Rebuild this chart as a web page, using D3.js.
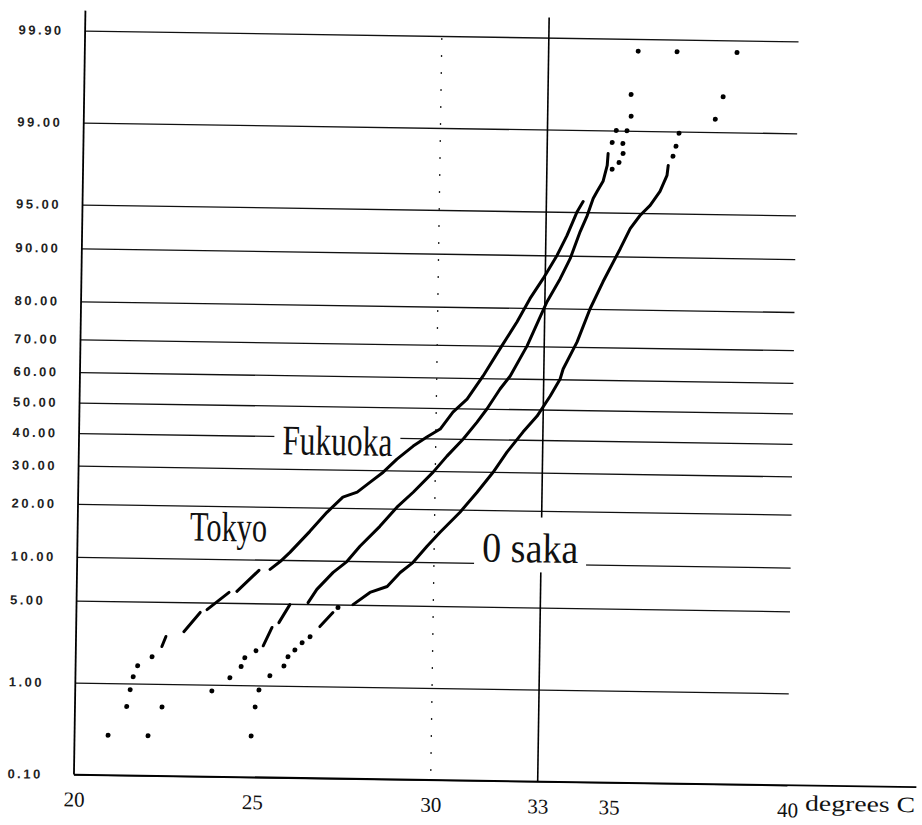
<!DOCTYPE html>
<html>
<head>
<meta charset="utf-8">
<script src="https://cdn.jsdelivr.net/npm/d3@7"></script>
<style>
  body { margin: 0; background: #fff; }
  svg { display: block; }
</style>
</head>
<body>
<div id="chart"></div>
<script>
// cumulative probability ticks (%) and the labels printed beside them
const probTicks = [0.1, 1, 5, 10, 20, 30, 40, 50, 60, 70, 80, 90, 95, 99, 99.9];
const probLabels = ["0.10", "1.00", "5.00", "10.00", "20.00", "30.00", "40.00", "50.00",
                    "60.00", "70.00", "80.00", "90.00", "95.00", "99.00", "99.90"];
const tempTicks = [20, 25, 30, 33, 35, 40];

// daily maxima, [temperature degC, cumulative %]
// low / high = isolated points of the tails, runs = dense stretches of the curve
const tokyoLow = [[20.94, 0.29], [21.45, 0.59], [21.54, 0.87], [21.62, 1.16], [21.74, 1.47], [22.14, 1.78]];
const tokyoRuns = [
  [[22.41, 2.19], [22.52, 2.67]],
  [[23.02, 2.94], [23.47, 4.20]],
  [[23.66, 4.42], [24.27, 5.96]],
  [[24.49, 6.08], [25.10, 8.52]],
  [[25.41, 8.67], [25.69, 9.76], [25.96, 11.16], [26.51, 14.9], [26.98, 18.93], [27.42, 22.57], [27.82, 23.9],
   [28.18, 26.62], [28.54, 29.45], [28.92, 33.38], [29.37, 37.46], [29.75, 40.41], [30.12, 43.06], [30.47, 48.7],
   [30.86, 53.1], [31.30, 60.71], [31.76, 69.1], [32.23, 76.62], [32.58, 82.1], [32.94, 86.15], [33.32, 90.0],
   [33.59, 92.61], [33.87, 95.05], [34.03, 95.84]]
];
const tokyoHigh = [[34.83, 97.75], [35.02, 98.04], [35.13, 98.37], [35.12, 98.68], [35.23, 99.0], [35.51, 99.86]];

const fukuokaLow = [[22.06, 0.29], [22.44, 0.59], [23.83, 0.87], [24.33, 1.17], [24.64, 1.49], [24.74, 1.79], [25.05, 2.07]];
const fukuokaRuns = [
  [[25.25, 2.29], [25.49, 3.26]],
  [[25.68, 3.57], [25.98, 4.93]],
  [[26.49, 5.12], [26.73, 6.40], [27.18, 8.40], [27.56, 9.9], [27.92, 12.33], [28.47, 16.1], [28.94, 20.35],
   [29.39, 24.1], [29.94, 29.69], [30.32, 34.5], [30.77, 39.95], [31.15, 45.5], [31.42, 49.9], [31.78, 56.58],
   [32.06, 60.8], [32.52, 70.09], [33.06, 81.51], [33.42, 86.2], [33.69, 89.55], [33.96, 93.1], [34.15, 94.7],
   [34.31, 96.07], [34.42, 96.56], [34.58, 97.15], [34.69, 97.91], [34.71, 98.36]]
];
const fukuokaHigh = [[34.82, 98.7], [34.93, 99.0], [35.34, 99.28], [35.33, 99.57], [36.60, 99.86]];

const osakaLow = [[24.95, 0.30], [25.05, 0.61], [25.15, 0.90], [25.45, 1.24], [25.84, 1.53], [25.95, 1.85],
  [26.14, 2.13], [26.34, 2.46], [26.56, 2.77], [27.33, 4.74]];
const osakaRuns = [
  [[26.83, 3.36], [27.19, 4.34]],
  [[27.75, 5.01], [28.22, 6.17], [28.70, 6.82], [29.06, 8.51], [29.41, 9.90], [29.80, 12.5], [30.16, 15.1],
   [30.71, 19.41], [31.18, 24.35], [31.62, 29.9], [32.00, 36.0], [32.44, 42.47], [32.83, 47.8], [33.19, 54.5],
   [33.46, 60.1], [33.54, 63.29], [33.92, 71.44], [34.27, 80.04], [34.62, 85.74], [35.09, 91.08], [35.36, 93.5],
   [35.63, 94.78], [35.91, 95.63], [36.18, 96.61], [36.37, 97.5], [36.40, 97.95]]
];
const osakaHigh = [[36.53, 98.30], [36.61, 98.62], [36.69, 98.96], [37.70, 99.25], [37.91, 99.56], [38.28, 99.86]];

// city names written on the plot, anchored at [temperature, %]
const cityNames = ["Fukuoka", "Tokyo", "0 saka"];
const cityAnchors = [[25.70, 34.3], [23.15, 12.9], [31.35, 10.2]];

// inverse of the normal cdf (Acklam), for the probability axis
function probit(p) {
    const a = [-39.6968302866538, 220.946098424521, -275.928510446969, 138.357751867269, -30.6647980661472, 2.50662827745924];
    const b = [-54.4760987982241, 161.585836858041, -155.698979859887, 66.8013118877197, -13.2806815528857];
    const c = [-0.00778489400243029, -0.322396458041136, -2.40075827716184, -2.54973253934373, 4.37466414146497, 2.93816398269878];
    const d = [0.00778469570904146, 0.32246712907004, 2.445134137143, 3.75440866190742];
    const lo = 0.02425;
    let q, r;
    if (p < lo) {
        q = Math.sqrt(-2 * Math.log(p));
        return (((((c[0] * q + c[1]) * q + c[2]) * q + c[3]) * q + c[4]) * q + c[5]) /
            ((((d[0] * q + d[1]) * q + d[2]) * q + d[3]) * q + 1);
    }
    if (p > 1 - lo) {
        q = Math.sqrt(-2 * Math.log(1 - p));
        return -(((((c[0] * q + c[1]) * q + c[2]) * q + c[3]) * q + c[4]) * q + c[5]) /
            ((((d[0] * q + d[1]) * q + d[2]) * q + d[3]) * q + 1);
    }
    q = p - 0.5;
    r = q * q;
    return (((((a[0] * r + a[1]) * r + a[2]) * r + a[3]) * r + a[4]) * r + a[5]) * q /
        (((((b[0] * r + b[1]) * r + b[2]) * r + b[3]) * r + b[4]) * r + 1);
}

const width = 922, height = 825;
const zMax = probit(0.999);

const x = d3.scaleLinear().domain([20, 40]).range([79.5, 793]);
const yz = d3.scaleLinear().domain([-zMax, zMax]).range([780, 36]);
const y = p => yz(probit(p / 100));

const svg = d3.select("#chart")
    .append("svg")
    .attr("width", width)
    .attr("height", height);

// the printed sheet sits a little askew
const g = svg.append("g").attr("transform", "rotate(0.86, 440, 408)");

// horizontal grid + probability labels
const yAxis = g.append("g")
    .attr("transform", `translate(${x(20)},0)`)
    .call(d3.axisLeft(yz)
        .tickValues(probTicks.map(p => probit(p / 100)))
        .tickSize(-(x(40) - x(20)))
        .tickFormat((d, i) => probLabels[i]));
yAxis.select(".domain").remove();
yAxis.selectAll(".tick line").attr("stroke", "#111").attr("stroke-width", 1.3);
yAxis.selectAll(".tick text")
    .attr("x", 13 - x(20))
    .attr("text-anchor", "start")
    .attr("fill", "#222")
    .style("font-family", "'Liberation Sans', Arial, sans-serif")
    .style("font-size", "13px")
    .style("font-weight", "bold")
    .style("letter-spacing", "2.5px");

// temperature labels
const xAxis = g.append("g")
    .attr("transform", `translate(0,${yz(-zMax)})`)
    .call(d3.axisBottom(x).tickValues(tempTicks).tickSize(0).tickPadding(17).tickFormat(d3.format("d")));
xAxis.select(".domain").remove();
xAxis.selectAll(".tick text")
    .attr("fill", "#111")
    .style("font-family", "'Liberation Serif', 'Times New Roman', serif")
    .style("font-size", "21px");

g.append("text")
    .attr("x", x(40) + 18)
    .attr("y", yz(-zMax) + 25)
    .attr("textLength", 110)
    .attr("lengthAdjust", "spacingAndGlyphs")
    .attr("fill", "#111")
    .style("font-family", "'Liberation Serif', 'Times New Roman', serif")
    .style("font-size", "22px")
    .text("degrees C");

// frame
g.append("line")
    .attr("x1", x(20)).attr("x2", x(20))
    .attr("y1", 16).attr("y2", yz(-zMax))
    .attr("stroke", "#000").attr("stroke-width", 1.8);
g.append("line")
    .attr("x1", x(20)).attr("x2", 922)
    .attr("y1", yz(-zMax)).attr("y2", yz(-zMax))
    .attr("stroke", "#000").attr("stroke-width", 1.8);

// 33 degC threshold and dotted 30 degC guide
g.append("line")
    .attr("x1", x(33)).attr("x2", x(33))
    .attr("y1", 16).attr("y2", yz(-zMax))
    .attr("stroke", "#000").attr("stroke-width", 1.6);
g.append("line")
    .attr("x1", x(30)).attr("x2", x(30))
    .attr("y1", 38).attr("y2", yz(-zMax))
    .attr("stroke", "#222").attr("stroke-width", 1.3)
    .attr("stroke-dasharray", "2,15");

// city names on white so the grid breaks around them
const labelWidth = { "Fukuoka": 110, "Tokyo": 77, "0 saka": 96 };
const labelFont = 42;
cityNames.forEach((name, i) => {
    const lx = x(cityAnchors[i][0]);
    const ly = y(cityAnchors[i][1]);
    if (name !== "Tokyo") {
        g.append("rect")
            .attr("x", lx - 8)
            .attr("y", ly - 45)
            .attr("width", labelWidth[name] + 16)
            .attr("height", 55)
            .attr("fill", "#fff");
    }
    g.append("text")
        .attr("x", lx)
        .attr("y", ly)
        .attr("textLength", labelWidth[name])
        .attr("lengthAdjust", "spacingAndGlyphs")
        .attr("fill", "#111")
        .style("font-family", "'Liberation Serif', 'Times New Roman', serif")
        .style("font-size", labelFont + "px")
        .text(name);
});

// curves
const line = d3.line()
    .x(d => x(d[0]))
    .y(d => y(d[1]));

[].concat(tokyoRuns, fukuokaRuns, osakaRuns).forEach(run => {
    g.append("path")
        .datum(run)
        .attr("d", line)
        .attr("fill", "none")
        .attr("stroke", "#000")
        .attr("stroke-width", 3)
        .attr("stroke-linejoin", "round")
        .attr("stroke-linecap", "round");
});

const dots = [].concat(tokyoLow, tokyoHigh, fukuokaLow, fukuokaHigh, osakaLow, osakaHigh);
g.append("g")
    .selectAll("circle")
    .data(dots)
    .join("circle")
    .attr("cx", d => x(d[0]))
    .attr("cy", d => y(d[1]))
    .attr("r", 2.5)
    .attr("fill", "#000");
</script>
</body>
</html>
